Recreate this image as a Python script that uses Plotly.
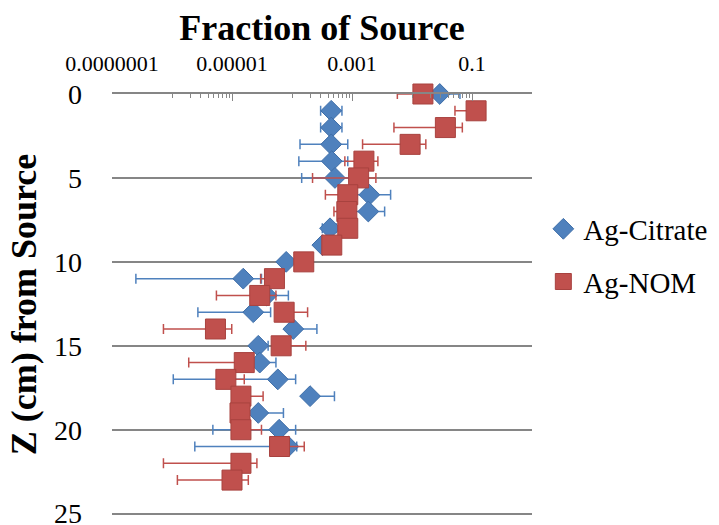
import plotly.graph_objects as go

# ---------------- data ----------------
depth_citrate = [0, 1, 2, 3, 4, 5, 6, 7, 8, 9, 10, 11, 12, 13, 14, 15, 16, 17, 18, 19, 20, 21]
citrate = [0.029, 4.5e-4, 4.5e-4, 4.5e-4, 4.6e-4, 5.2e-4, 1.95e-3, 1.87e-3, 4.3e-4, 3.2e-4,
           8.0e-5, 1.54e-5, 3.8e-5, 2.26e-5, 1.05e-4, 2.74e-5, 2.9e-5, 5.8e-5, 2.0e-4, 2.74e-5,
           6.1e-5, 8.7e-5]
citrate_lo = [0.018, 3.0e-4, 3.0e-4, 1.36e-4, 1.3e-4, 1.45e-4, 1.0e-3, 1.0e-3, 3.2e-4, 3.2e-4,
              8.0e-5, 2.5e-7, 3.0e-5, 2.7e-6, 1.05e-4, 2.74e-5, 2.9e-5, 1.05e-6, 2.0e-4, 2.74e-5,
              4.8e-6, 2.4e-6]
citrate_hi = [0.063, 6.8e-4, 6.8e-4, 8.5e-4, 8.5e-4, 9.0e-4, 4.4e-3, 3.5e-3, 5.5e-4, 3.2e-4,
              8.0e-5, 3.1e-5, 8.7e-5, 4.4e-5, 2.6e-4, 4.0e-5, 5.4e-5, 1.15e-4, 5.1e-4, 7.2e-5,
              1.15e-4, 1.2e-4]

depth_nom = [0, 1, 2, 3, 4, 5, 6, 7, 8, 9, 10, 11, 12, 13, 14, 15, 16, 17, 18, 19, 20, 21, 22, 23]
nom = [0.0152, 0.117, 0.036, 9.3e-3, 1.58e-3, 1.29e-3, 8.5e-4, 8.2e-4, 8.5e-4, 4.6e-4,
       1.57e-4, 5.1e-5, 2.9e-5, 7.4e-5, 5.3e-6, 6.6e-5, 1.6e-5, 7.9e-6, 1.41e-5, 1.36e-5,
       1.41e-5, 6.2e-5, 1.41e-5, 1.0e-5]
nom_lo = [5.7e-3, 0.052, 5.0e-3, 1.5e-3, 7.6e-4, 2.2e-4, 3.6e-4, 5.0e-4, 8.5e-4, 4.6e-4,
          1.57e-4, 3.0e-5, 5.5e-6, 7.4e-5, 7.2e-7, 5.0e-5, 1.9e-6, 7.9e-6, 1.41e-5, 1.36e-5,
          1.41e-5, 6.2e-5, 7.2e-7, 1.23e-6]
nom_hi = [0.022, 0.16, 0.069, 0.017, 2.7e-3, 2.5e-3, 1.2e-3, 1.1e-3, 8.5e-4, 4.6e-4,
          1.57e-4, 6.0e-5, 5.4e-5, 1.82e-4, 9.9e-6, 1.7e-4, 2.0e-5, 1.6e-5, 3.3e-5, 1.36e-5,
          3.1e-5, 1.6e-4, 2.6e-5, 1.87e-5]

x_tickvals = [1e-7, 1e-5, 1e-3, 1e-1, 1]
x_ticktext = ["0.0000001", "0.00001", "0.001", "0.1", ""]
x_minor = [m * 10.0 ** e for e in (-6, -4, -2) for m in range(1, 10)]
y_tickvals = [0, 5, 10, 15, 20, 25]

BLUE = "#4F81BD"
RED = "#C0504D"
GRID = "#868686"
FONT = "Liberation Serif"


def plus(v, hi):
    return [h - a for a, h in zip(v, hi)]


def minus(v, lo):
    return [a - l for a, l in zip(v, lo)]


fig = go.Figure()
fig.add_trace(go.Scatter(
    x=citrate, y=depth_citrate, mode="markers", name="Ag-Citrate",
    legendgroup="a", cliponaxis=False,
    marker=dict(symbol="diamond", size=16, color=BLUE, line=dict(color="#3E6EA8", width=1)),
    error_x=dict(type="data", symmetric=False, array=plus(citrate, citrate_hi),
                 arrayminus=minus(citrate, citrate_lo), color=BLUE, thickness=1.5, width=5),
))
fig.add_trace(go.Scatter(
    x=nom, y=depth_nom, mode="markers", name="Ag-NOM",
    legendgroup="b", cliponaxis=False,
    marker=dict(symbol="square", size=20, color=RED, line=dict(color="#A8423F", width=1)),
    error_x=dict(type="data", symmetric=False, array=plus(nom, nom_hi),
                 arrayminus=minus(nom, nom_lo), color=RED, thickness=1.5, width=5),
))

fig.update_layout(
    width=719, height=525,
    margin=dict(l=112, r=187, t=94, b=10, autoexpand=False),
    paper_bgcolor="white", plot_bgcolor="white",
    font=dict(family=FONT, color="black"),
    title=dict(text="<b>Fraction of Source</b>", x=0.5, xref="paper", xanchor="center",
               y=1 - 27 / 525, yref="container", yanchor="middle",
               font=dict(family=FONT, size=36, color="black")),
    xaxis=dict(type="log", range=[-7, 0], side="top",
               showline=True, linecolor=GRID, linewidth=1.5, mirror=False,
               ticks="inside", ticklen=7, tickwidth=1, tickcolor=GRID,
               tickmode="array", tickvals=x_tickvals, ticktext=x_ticktext,
               tickfont=dict(family=FONT, size=22, color="black"),
               ticklabelstandoff=12,
               minor=dict(tickmode="array", tickvals=x_minor, ticks="inside", ticklen=4,
                          tickcolor=GRID, tickwidth=1, showgrid=False),
               showgrid=False, zeroline=False),
    yaxis=dict(range=[25.08, 0], tickmode="array", tickvals=y_tickvals,
               showgrid=True, gridcolor=GRID, gridwidth=1.5,
               showline=False, zeroline=False, ticks="",
               ticklabeloverflow="allow",
               tickfont=dict(family=FONT, size=28, color="black"),
               ticklabelstandoff=29,
               title=dict(text="<b>Z (cm) from Source</b>",
                          font=dict(family=FONT, size=36, color="black"), standoff=6)),
    legend=dict(x=1.027, xanchor="left", y=0.74, yanchor="top",
                font=dict(family=FONT, size=29, color="black"),
                traceorder="grouped", tracegroupgap=12,
                bgcolor="rgba(0,0,0,0)", itemsizing="trace"),
    showlegend=True,
)

fig.write_html("out.html")
